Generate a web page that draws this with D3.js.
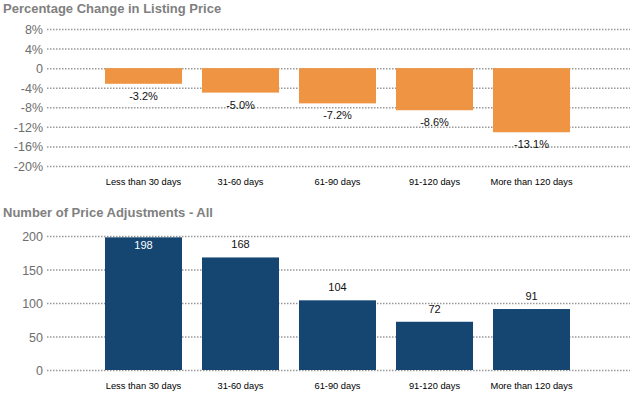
<!DOCTYPE html>
<html>
<head>
<meta charset="utf-8">
<script src="https://cdn.jsdelivr.net/npm/d3@7"></script>
<style>
  body { margin: 0; background: #fff; }
  svg { display: block; }
  .title { font-family: "Liberation Sans", Arial, sans-serif; font-size: 13px; font-weight: bold; fill: #808080; }
  .grid line { stroke: #999; stroke-width: 1.5; stroke-dasharray: 1.5,1.5; }
  .grid text { font-family: "Liberation Sans", Arial, sans-serif; font-size: 12.5px; fill: #6e6e6e; }
  .cat text { font-family: "Liberation Sans", Arial, sans-serif; font-size: 9.3px; fill: #000; }
  .val { font-family: "Liberation Sans", Arial, sans-serif; font-size: 11px; }
</style>
</head>
<body>
<svg id="chart" width="633" height="400"></svg>
<script>
var categories = ["Less than 30 days", "31-60 days", "61-90 days", "91-120 days", "More than 120 days"];
var pctChange = [-3.2, -5.0, -7.2, -8.6, -13.1];
var adjustments = [198, 168, 104, 72, 91];
var pctTicks = [8, 4, 0, -4, -8, -12, -16, -20];
var countTicks = [200, 150, 100, 50, 0];

var svg = d3.select("#chart"),
	width = +svg.attr("width");

var x = d3.scaleBand()
	.domain(categories)
	.range([95, 580])
	.paddingInner(0.206)
	.paddingOuter(0.103);

// top chart
var y1 = d3.scaleLinear().domain([-20, 8]).range([166, 29]);

svg.append("text").attr("class", "title").attr("x", 3).attr("y", 13)
	.text("Percentage Change in Listing Price");

var g1 = svg.append("g").attr("class", "grid").attr("transform", "translate(47,0)")
	.call(d3.axisLeft(y1).tickValues(pctTicks).tickSize(-(width - 50)).tickPadding(4)
		.tickFormat(function (d) { return d === 0 ? "0" : d + "%"; }));
g1.select(".domain").remove();
g1.selectAll("text").attr("dy", "0.36em");

svg.append("g").selectAll("rect")
	.data(pctChange)
	.enter().append("rect")
	.attr("x", function (d, i) { return x(categories[i]); })
	.attr("y", y1(0))
	.attr("width", x.bandwidth())
	.attr("height", function (d) { return y1(d) - y1(0); })
	.attr("fill", "#EE9442");

svg.append("g").selectAll("text")
	.data(pctChange)
	.enter().append("text")
	.attr("class", "val")
	.attr("text-anchor", "middle")
	.attr("x", function (d, i) { return x(categories[i]) + x.bandwidth() / 2; })
	.attr("y", function (d) { return y1(d) + 16; })
	.attr("fill", "#111")
	.text(function (d) { return d.toFixed(1) + "%"; });

var c1 = svg.append("g").attr("class", "cat").attr("transform", "translate(0,174)")
	.call(d3.axisBottom(x).tickSize(0).tickPadding(4));
c1.select(".domain").remove();

// bottom chart
var y2 = d3.scaleLinear().domain([0, 200]).range([370, 236]);

svg.append("text").attr("class", "title").attr("x", 3).attr("y", 217)
	.text("Number of Price Adjustments - All");

var g2 = svg.append("g").attr("class", "grid").attr("transform", "translate(47,0)")
	.call(d3.axisLeft(y2).tickValues(countTicks).tickSize(-(width - 50)).tickPadding(4));
g2.select(".domain").remove();
g2.selectAll("text").attr("dy", "0.36em");

svg.append("g").selectAll("rect")
	.data(adjustments)
	.enter().append("rect")
	.attr("x", function (d, i) { return x(categories[i]); })
	.attr("y", function (d) { return y2(d); })
	.attr("width", x.bandwidth())
	.attr("height", function (d) { return y2(0) - y2(d); })
	.attr("fill", "#154672");

svg.append("g").selectAll("text")
	.data(adjustments)
	.enter().append("text")
	.attr("class", "val")
	.attr("text-anchor", "middle")
	.attr("x", function (d, i) { return x(categories[i]) + x.bandwidth() / 2; })
	.attr("y", function (d) {
		// no room above the plot top, put it inside the bar
		return y2(d) - 20 < y2(200) ? y2(d) + 12 : y2(d) - 9;
	})
	.attr("fill", function (d) { return y2(d) - 20 < y2(200) ? "#fff" : "#111"; })
	.text(function (d) { return d; });

var c2 = svg.append("g").attr("class", "cat").attr("transform", "translate(0,378)")
	.call(d3.axisBottom(x).tickSize(0).tickPadding(4));
c2.select(".domain").remove();
</script>
</body>
</html>
